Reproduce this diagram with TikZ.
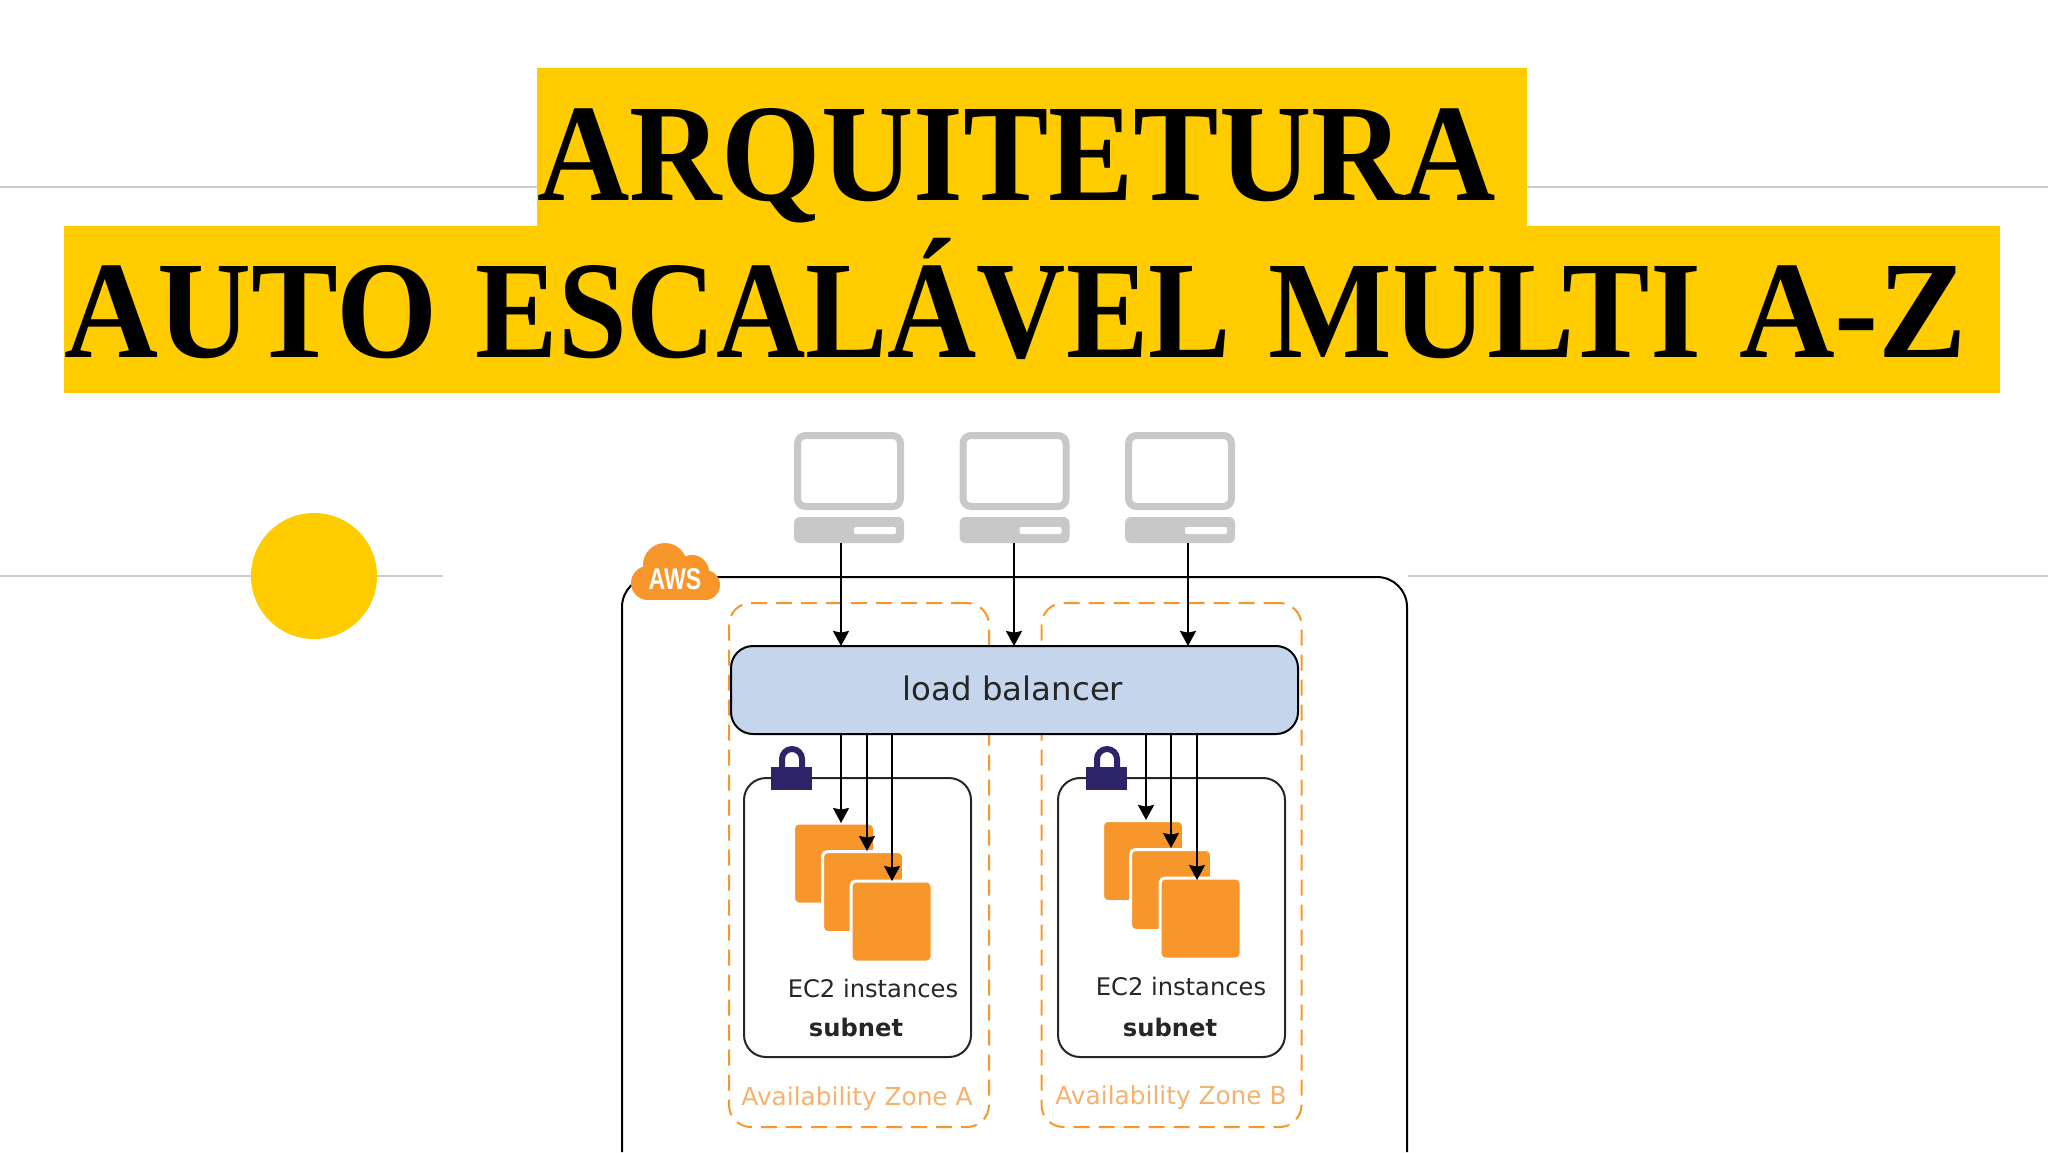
\documentclass[tikz,border=0pt]{standalone}
\usepackage{fontspec}
\usetikzlibrary{arrows.meta}
\setmainfont{DejaVu Sans}
\newfontfamily\titlefont[FakeStretch=0.92]{Liberation Serif}
\newfontfamily\awsfont[FakeStretch=0.77]{Liberation Sans}
\definecolor{titleyellow}{HTML}{FFCC00}
\definecolor{rulegrey}{HTML}{CCCCCC}
\definecolor{pcgrey}{HTML}{C8C8C8}
\definecolor{awsorange}{HTML}{F7972B}
\definecolor{zonetext}{HTML}{F4B26E}
\definecolor{lbblue}{HTML}{C5D6EC}
\definecolor{locknavy}{HTML}{2C2368}

\begin{document}
\begin{tikzpicture}[> = {Stealth[length=7.5pt,width=8pt,inset=.8pt]}, % arrow head style
	x=.5pt,y=-.5pt, % one unit is one pixel of the reference, y going down
	every node/.style={inner sep=0pt,outer sep=0pt},
	flow/.style={->,black,line width=1pt},
	rulerline/.style={rulegrey,line width=1pt},
	titlebar/.style={fill=titleyellow},
	titletext/.style={anchor=base west,font=\titlefont\bfseries\fontsize{69.5pt}{70pt}\selectfont},
	monitor/.style={draw=pcgrey,line width=3.5pt,rounded corners=4pt,minimum width=51.5pt,minimum height=35.5pt},
	pcbase/.style={fill=pcgrey,rounded corners=3pt,minimum width=55pt,minimum height=13pt},
	pcslot/.style={fill=white,rounded corners=1pt,minimum width=21pt,minimum height=3.5pt},
	zone/.style={draw=awsorange,line width=1pt,dash pattern=on 8pt off 4.5pt,rounded corners=11pt,minimum width=130pt,minimum height=262pt},
	zonelabel/.style={text=zonetext,font=\fontsize{12.4pt}{14pt}\selectfont},
	balancer/.style={draw=black,fill=lbblue,line width=1pt,rounded corners=11pt,minimum width=283.5pt,minimum height=44pt},
	subnetbox/.style={draw=black!85,line width=1pt,rounded corners=11pt,minimum width=113.5pt,minimum height=139.5pt},
	lockbody/.style={fill=locknavy,minimum width=20.5pt,minimum height=11.5pt},
	lockbar/.style={locknavy,line width=3pt},
	vm/.style={fill=awsorange,draw=white,line width=1.5pt,rounded corners=2.5pt,minimum width=40.5pt,minimum height=40.5pt},
	caption/.style={text=black!85,font=\fontsize{12.1pt}{14pt}\selectfont}]

	\useasboundingbox (0,0) rectangle (2048,1152);

	% title
	\node[titlebar,minimum width=495pt,minimum height=79pt] (bar1) at (1032,147) {};
	\node[titlebar,minimum width=968pt,minimum height=83.5pt] (bar2) at (1032,309.5) {};
	\node[titletext] (title1) at (537,200) {ARQUITETURA};
	\node[titletext] (title2) at (64,357) {\spaceskip=19pt\scalebox{1.018}[1]{AUTO} \scalebox{.966}[1]{ESCALÁVEL} \scalebox{1.025}[1]{MULTI} \scalebox{1.036}[1]{A-Z}};

	% grey lines and dot
	\draw[rulerline] (0,187) -- (537,187);
	\draw[rulerline] (1527,187) -- (2048,187);
	\draw[rulerline] (0,576) -- (443,576);
	\draw[rulerline] (1408,576) -- (2048,576);
	\node[circle,fill=titleyellow,minimum size=63pt] (dot) at (314,576) {};

	% computers
	\node[monitor] (pc1) at (849,471) {};
	\node[monitor] (pc2) at (1014.5,471) {};
	\node[monitor] (pc3) at (1180,471) {};
	\node[pcbase] (base1) at (849,530) {};
	\node[pcbase] (base2) at (1014.5,530) {};
	\node[pcbase] (base3) at (1180,530) {};
	\node[pcslot] (slot1) at (875,530.5) {};
	\node[pcslot] (slot2) at (1040.5,530.5) {};
	\node[pcslot] (slot3) at (1206,530.5) {};

	% zones
	\node[zone] (zoneA) at (859,865) {};
	\node[zone] (zoneB) at (1171.5,865) {};
	\node[zonelabel] (labelA) at (857,1099) {Availability Zone A};
	\node[zonelabel] (labelB) at (1171,1098) {Availability Zone B};

	% aws box, its lower edge is under the page
	\draw[black,line width=1pt,rounded corners=15pt] (622,1152) -- (622,577) -- (1407,577) -- (1407,1152);

	% aws cloud
	\fill[awsorange] (648,570) rectangle (705,600);
	\fill[awsorange] (665,565) circle[radius=11pt];
	\fill[awsorange] (692,572) circle[radius=8.5pt];
	\fill[awsorange] (705,585) circle[radius=7.5pt];
	\fill[awsorange] (648,583) circle[radius=8.5pt];
	\node[text=white,font=\awsfont\bfseries\fontsize{15pt}{16pt}\selectfont] (aws) at (675,579) {AWS};

	\node[balancer] (lb) at (1014.5,690) {};
	\node[text=black!85,font=\fontsize{16.2pt}{18pt}\selectfont] (lbtext) at (1013,688) {load balancer};

	% subnets
	\node[subnetbox] (netA) at (857.5,917.5) {};
	\node[subnetbox] (netB) at (1171.5,917.5) {};
	\node[lockbody] (lockA) at (791.5,778.5) {};
	\node[lockbody] (lockB) at (1106.5,778.5) {};
	\draw[lockbar] (782,768) -- (782,759) arc (180:360:10) -- (802,768);
	\draw[lockbar] (1097,768) -- (1097,759) arc (180:360:10) -- (1117,768);

	% instances
	\node[vm] (a1) at (834,863.5) {};
	\node[vm] (a2) at (863,892) {};
	\node[vm] (a3) at (891.5,921.5) {};
	\node[vm] (b1) at (1143,861) {};
	\node[vm] (b2) at (1171,890) {};
	\node[vm] (b3) at (1200.5,918.5) {};
	\node[caption] (ec2A) at (873,988) {EC2 instances};
	\node[caption] (ec2B) at (1181,986) {EC2 instances};
	\node[caption,font=\bfseries\fontsize{12.1pt}{14pt}\selectfont] (subA) at (856,1027) {subnet};
	\node[caption,font=\bfseries\fontsize{12.1pt}{14pt}\selectfont] (subB) at (1170,1027) {subnet};

	% arrow ends
	\coordinate (in1) at (841,646);
	\coordinate (in2) at (1014,646);
	\coordinate (in3) at (1188,646);
	\coordinate (inA1) at (841,823);
	\coordinate (inA2) at (867,851);
	\coordinate (inA3) at (892,881);
	\coordinate (inB1) at (1146,820);
	\coordinate (inB2) at (1171,848);
	\coordinate (inB3) at (1197,880);

	\draw[flow] (base1.south -| in1)--(in1);
	\draw[flow] (base2.south -| in2)--(in2);
	\draw[flow] (base3.south -| in3)--(in3);
	\draw[flow] (lb.south -| inA1)--(inA1);
	\draw[flow] (lb.south -| inA2)--(inA2);
	\draw[flow] (lb.south -| inA3)--(inA3);
	\draw[flow] (lb.south -| inB1)--(inB1);
	\draw[flow] (lb.south -| inB2)--(inB2);
	\draw[flow] (lb.south -| inB3)--(inB3);

\end{tikzpicture}
\end{document}
